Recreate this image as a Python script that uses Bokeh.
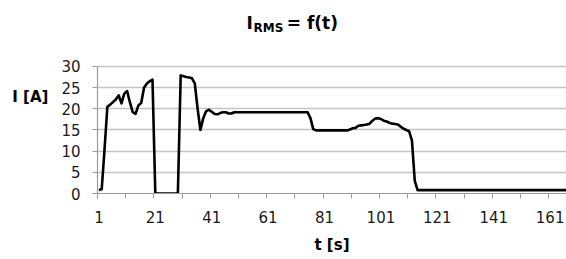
from bokeh.plotting import figure
from bokeh.models import Range1d, FixedTicker, Label
from bokeh.embed import file_html
from bokeh.resources import INLINE

# time in seconds (category index)
t_s = list(range(1, 168))
# RMS current [A]
i_rms = [
    0.8, 1.0, 10.5, 20.5, 21.0, 21.6, 22.2, 23.2, 21.3, 23.6,
    24.2, 21.5, 19.2, 18.8, 20.8, 21.4, 25.0, 26.0, 26.5, 26.9,
    0, 0, 0, 0, 0, 0, 0, 0, 0, 27.9,
    27.7, 27.5, 27.4, 27.2, 26.0, 20.0, 15.0, 17.8, 19.4, 19.8,
    19.3, 18.8, 18.7, 19.0, 19.2, 19.2, 18.9, 18.9, 19.2, 19.2,
    19.2, 19.2, 19.2, 19.2, 19.2, 19.2, 19.2, 19.2, 19.2, 19.2,
    19.2, 19.2, 19.2, 19.2, 19.2, 19.2, 19.2, 19.2, 19.2, 19.2,
    19.2, 19.2, 19.2, 19.2, 19.2, 17.8, 15.2, 14.9, 14.9, 14.9,
    14.9, 14.9, 14.9, 14.9, 14.9, 14.9, 14.9, 14.9, 14.9, 15.1,
    15.4, 15.5, 16.0, 16.1, 16.2, 16.3, 16.5, 17.2, 17.7, 17.8,
    17.6, 17.2, 17.0, 16.7, 16.5, 16.4, 16.3, 15.8, 15.3, 15.0,
    14.7, 12.5, 3.0, 0.8, 0.8, 0.8, 0.8, 0.8, 0.8, 0.8,
    0.8, 0.8, 0.8, 0.8, 0.8, 0.8, 0.8, 0.8, 0.8, 0.8,
    0.8, 0.8, 0.8, 0.8, 0.8, 0.8, 0.8, 0.8, 0.8, 0.8,
    0.8, 0.8, 0.8, 0.8, 0.8, 0.8, 0.8, 0.8, 0.8, 0.8,
    0.8, 0.8, 0.8, 0.8, 0.8, 0.8, 0.8, 0.8, 0.8, 0.8,
    0.8, 0.8, 0.8, 0.8, 0.8, 0.8, 0.8,
]
x_label_ticks = [1, 21, 41, 61, 81, 101, 121, 141, 161]
x_mark_ticks = [0.5, 10.5, 20.5, 30.5, 40.5, 50.5, 60.5, 70.5, 80.5, 90.5,
                100.5, 110.5, 120.5, 130.5, 140.5, 150.5, 160.5]
y_ticks = [0, 5, 10, 15, 20, 25, 30]

FONT = "DejaVu Sans"
GRID = "#c4c4c4"
AXIS = "#9a9a9a"

# frame reaches the top of the canvas so the title can sit inside it;
# the visible value axis is bounded to 0..30
p = figure(title=None, frame_width=469, frame_height=193,
           min_border_left=97, min_border_right=0,
           min_border_top=0, min_border_bottom=66,
           x_range=Range1d(0.5, 166.8), y_range=Range1d(0, 45.59),
           output_backend="svg", toolbar_location=None)
p.outline_line_color = None
p.background_fill_color = "white"
p.border_fill_color = "white"

p.line(t_s, i_rms, line_color="black", line_width=2.6, line_join="round")

# x axis
xa = p.xaxis[0]
xa.ticker = FixedTicker(ticks=x_label_ticks, minor_ticks=x_mark_ticks)
xa.major_tick_out = 0
xa.major_tick_in = 0
xa.minor_tick_out = 5
xa.minor_tick_in = 0
xa.minor_tick_line_color = AXIS
xa.axis_line_color = AXIS
xa.axis_line_width = 1.2
xa.major_label_text_font = FONT
xa.major_label_text_font_size = "15px"
xa.major_label_text_color = "#1a1a1a"
xa.major_label_standoff = 12
xa.axis_label = "t [s]"
xa.axis_label_text_font = FONT
xa.axis_label_text_font_style = "bold"
xa.axis_label_text_font_size = "15px"
xa.axis_label_text_color = "black"
xa.axis_label_standoff = 10

# y axis
ya = p.yaxis[0]
ya.bounds = (0, 30)
ya.ticker = FixedTicker(ticks=y_ticks)
ya.major_tick_out = 5
ya.major_tick_in = 0
ya.minor_tick_out = 0
ya.minor_tick_in = 0
ya.major_tick_line_color = AXIS
ya.axis_line_color = AXIS
ya.axis_line_width = 1.2
ya.major_label_text_font = FONT
ya.major_label_text_font_size = "15px"
ya.major_label_text_color = "#1a1a1a"
ya.major_label_standoff = 12
ya.axis_label = "I [A]"
ya.axis_label_orientation = "horizontal"
ya.axis_label_text_font = FONT
ya.axis_label_text_font_style = "bold"
ya.axis_label_text_font_size = "15px"
ya.axis_label_text_color = "black"
ya.axis_label_standoff = 10

p.xgrid.visible = False
p.ygrid.ticker = FixedTicker(ticks=y_ticks)
p.ygrid.grid_line_color = GRID
p.ygrid.grid_line_width = 1.5

# title I_RMS = f(t)
p.add_layout(Label(x=53.3, y=40.2, text="I",
                   text_font=FONT, text_font_style="bold", text_font_size="17px",
                   text_baseline="alphabetic", text_align="left", text_color="black"))
p.add_layout(Label(x=55.8, y=39.2, text="RMS",
                   text_font=FONT, text_font_style="bold", text_font_size="12px",
                   text_baseline="alphabetic", text_align="left", text_color="black"))
p.add_layout(Label(x=67.6, y=40.2, text="= f(t)",
                   text_font=FONT, text_font_style="bold", text_font_size="17px",
                   text_baseline="alphabetic", text_align="left", text_color="black"))

open("out.html", "w").write(file_html(p, INLINE))
